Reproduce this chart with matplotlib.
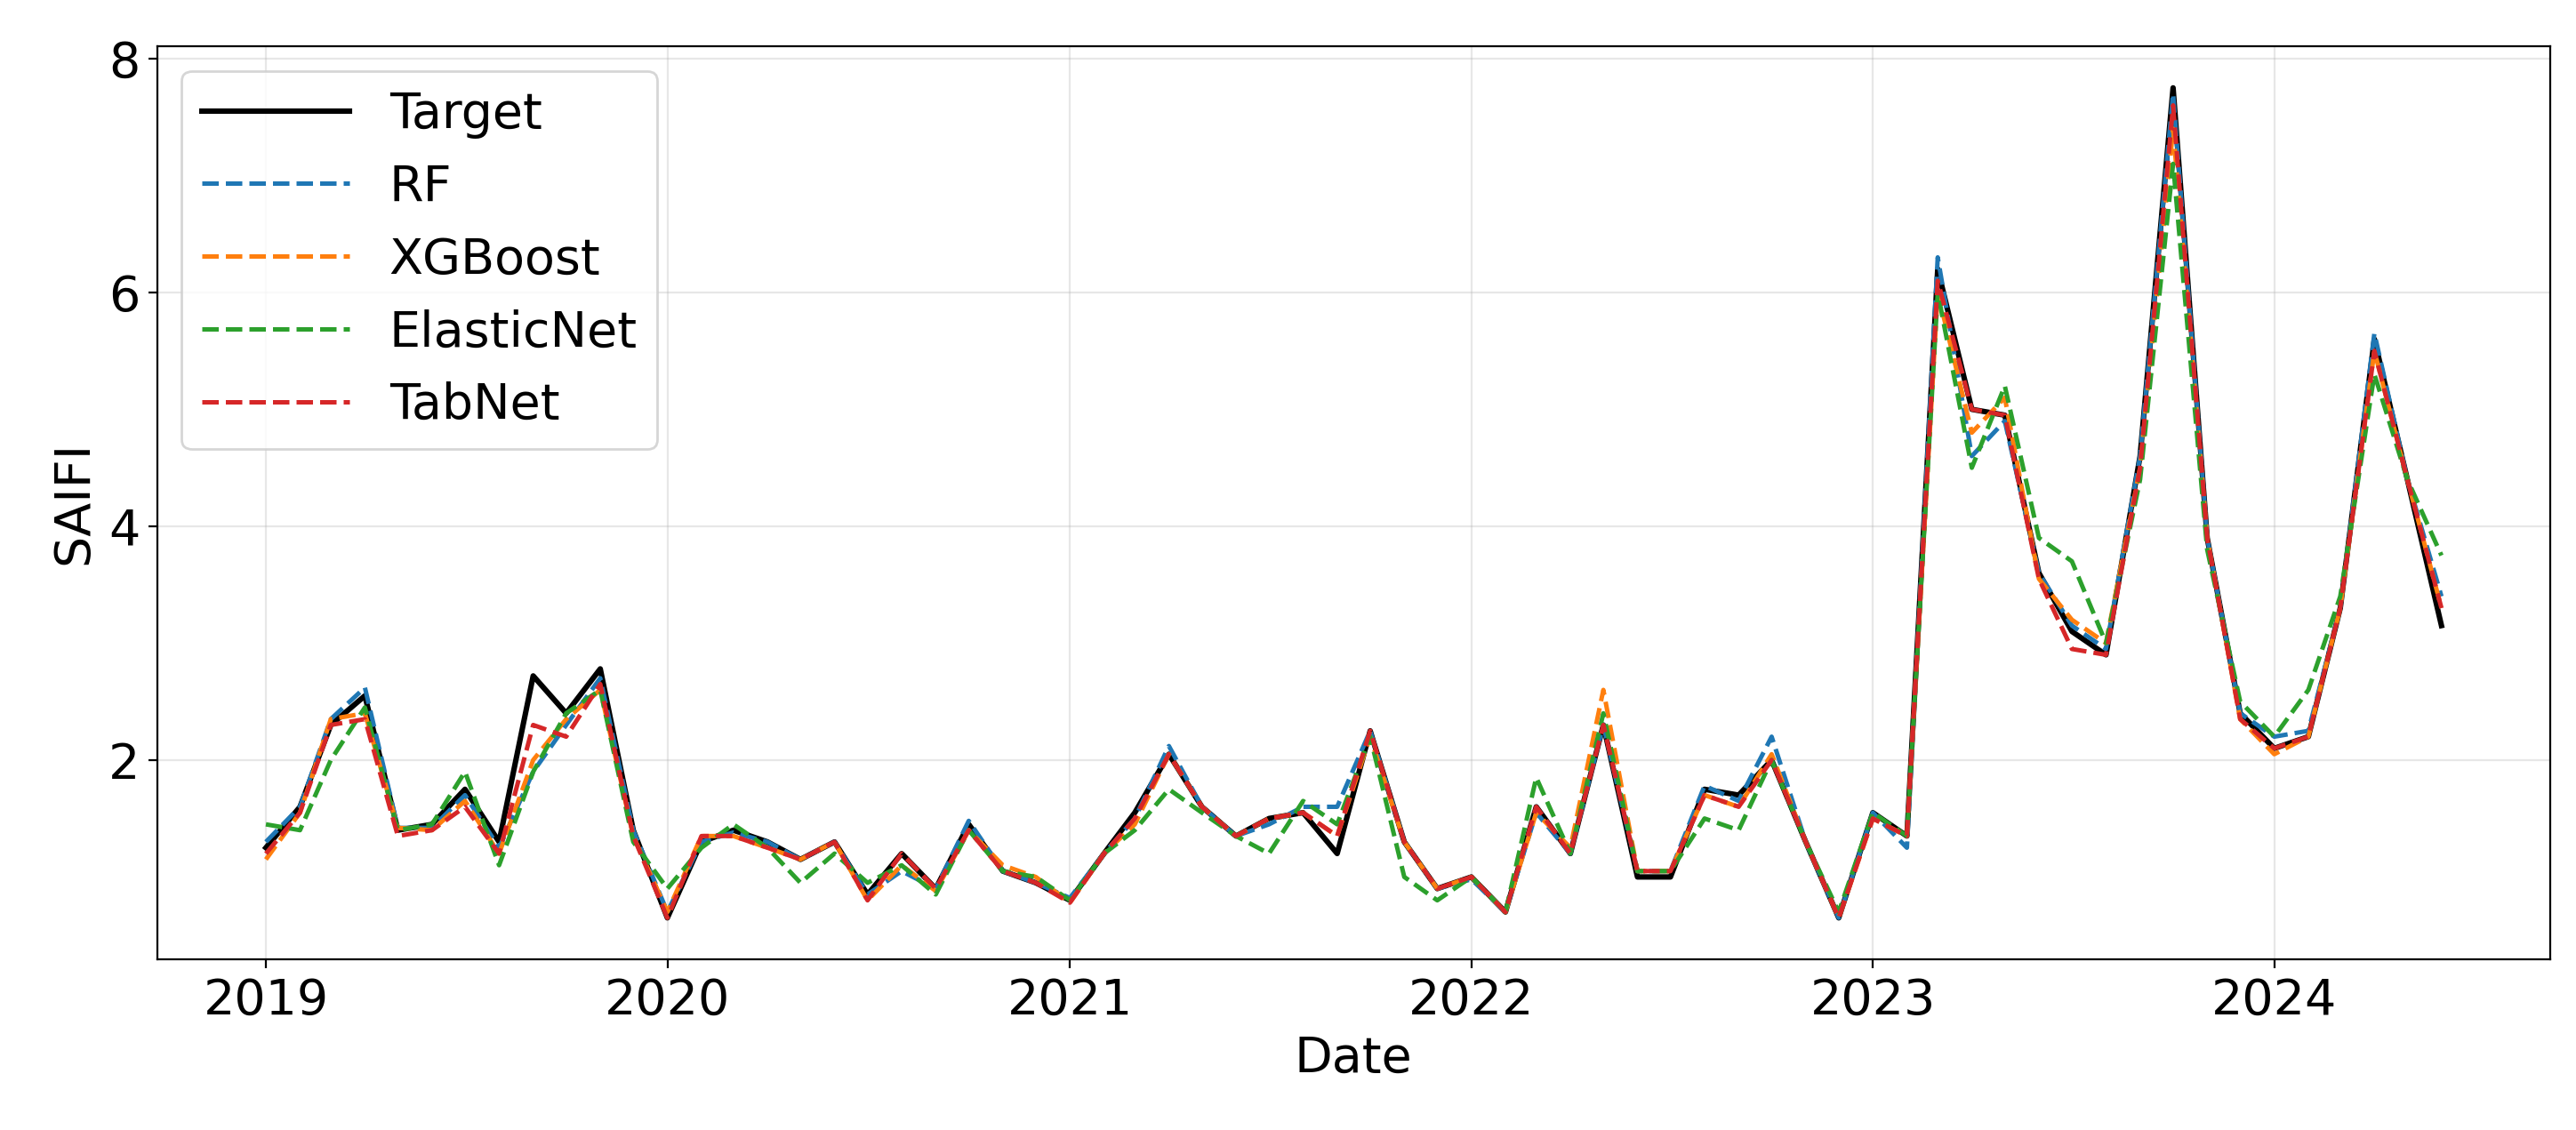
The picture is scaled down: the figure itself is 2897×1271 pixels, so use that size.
import matplotlib
matplotlib.use("Agg")
import matplotlib.pyplot as plt
import pandas as pd

dates = pd.date_range("2019-01-01", periods=66, freq="MS")
target = [1.25,1.6,2.3,2.55,1.4,1.45,1.75,1.3,2.72,2.4,2.78,1.4,
          0.65,1.3,1.4,1.3,1.15,1.3,0.85,1.2,0.9,1.45,1.05,0.95,
          0.8,1.2,1.55,2.05,1.6,1.35,1.5,1.55,1.2,2.25,1.3,0.9,
          1.0,0.7,1.6,1.2,2.3,1.0,1.0,1.75,1.7,2.0,1.3,0.65,
          1.55,1.35,6.2,5.0,4.95,3.6,3.1,2.9,4.6,7.75,3.9,2.4,
          2.1,2.2,3.3,5.6,4.4,3.15]
rf = [1.3,1.6,2.35,2.62,1.42,1.42,1.7,1.25,1.9,2.3,2.7,1.4,
      0.7,1.3,1.38,1.3,1.15,1.3,0.85,1.05,0.9,1.48,1.05,0.95,
      0.82,1.2,1.5,2.12,1.6,1.35,1.45,1.6,1.6,2.25,1.3,0.9,
      0.98,0.7,1.55,1.2,2.3,1.05,1.05,1.78,1.65,2.2,1.3,0.65,
      1.55,1.25,6.3,4.6,4.9,3.6,3.15,2.95,4.6,7.7,3.9,2.4,
      2.2,2.25,3.3,5.65,4.4,3.4]
xgb = [1.15,1.55,2.35,2.4,1.42,1.4,1.65,1.2,2.0,2.35,2.6,1.35,
       0.7,1.35,1.35,1.25,1.15,1.3,0.8,1.1,0.88,1.4,1.1,1.0,
       0.78,1.2,1.45,2.05,1.6,1.35,1.5,1.55,1.35,2.2,1.3,0.9,
       1.0,0.7,1.55,1.25,2.6,1.05,1.05,1.7,1.6,2.05,1.3,0.65,
       1.5,1.35,6.0,4.8,5.1,3.55,3.2,3.0,4.5,7.4,3.9,2.35,
       2.05,2.2,3.3,5.5,4.4,3.3]
enet = [1.45,1.4,2.0,2.45,1.4,1.45,1.9,1.1,1.9,2.4,2.6,1.3,
        0.9,1.25,1.45,1.25,0.95,1.2,0.95,1.1,0.85,1.4,1.05,1.0,
        0.8,1.2,1.4,1.75,1.55,1.35,1.2,1.65,1.45,2.2,1.0,0.8,
        1.0,0.7,1.85,1.2,2.4,1.05,1.05,1.5,1.4,2.0,1.3,0.7,
        1.55,1.35,6.0,4.5,5.2,3.9,3.7,3.0,4.4,7.1,3.8,2.5,
        2.2,2.6,3.4,5.3,4.4,3.75]
tabnet = [1.2,1.55,2.3,2.35,1.35,1.4,1.6,1.2,2.3,2.2,2.65,1.35,
          0.65,1.35,1.35,1.25,1.15,1.3,0.8,1.2,0.9,1.4,1.05,0.95,
          0.78,1.2,1.5,2.05,1.6,1.35,1.5,1.55,1.35,2.25,1.3,0.9,
          1.0,0.7,1.6,1.2,2.3,1.05,1.05,1.7,1.6,2.0,1.3,0.65,
          1.5,1.35,6.1,5.0,4.95,3.55,2.95,2.9,4.5,7.6,3.9,2.35,
          2.1,2.2,3.3,5.5,4.4,3.3]

plt.rcParams['font.size'] = 20
fig = plt.figure(figsize=(14.485, 6.355), dpi=200)
ax = fig.add_axes([0.061, 0.151, 0.929, 0.808])
ax.plot(dates, target, color="black", lw=2.2, label="Target")
ax.plot(dates, rf, "--", color="#1f77b4", lw=1.8, label="RF")
ax.plot(dates, xgb, "--", color="#ff7f0e", lw=1.8, label="XGBoost")
ax.plot(dates, enet, "--", color="#2ca02c", lw=1.8, label="ElasticNet")
ax.plot(dates, tabnet, "--", color="#d62728", lw=1.8, label="TabNet")
ax.set_xlabel("Date")
ax.set_ylabel("SAIFI")
ax.set_yticks([2, 4, 6, 8])
ax.grid(True, alpha=0.3)
ax.legend(loc="upper left", fontsize=20, handlelength=3)
fig.savefig("out.png", dpi=200)
